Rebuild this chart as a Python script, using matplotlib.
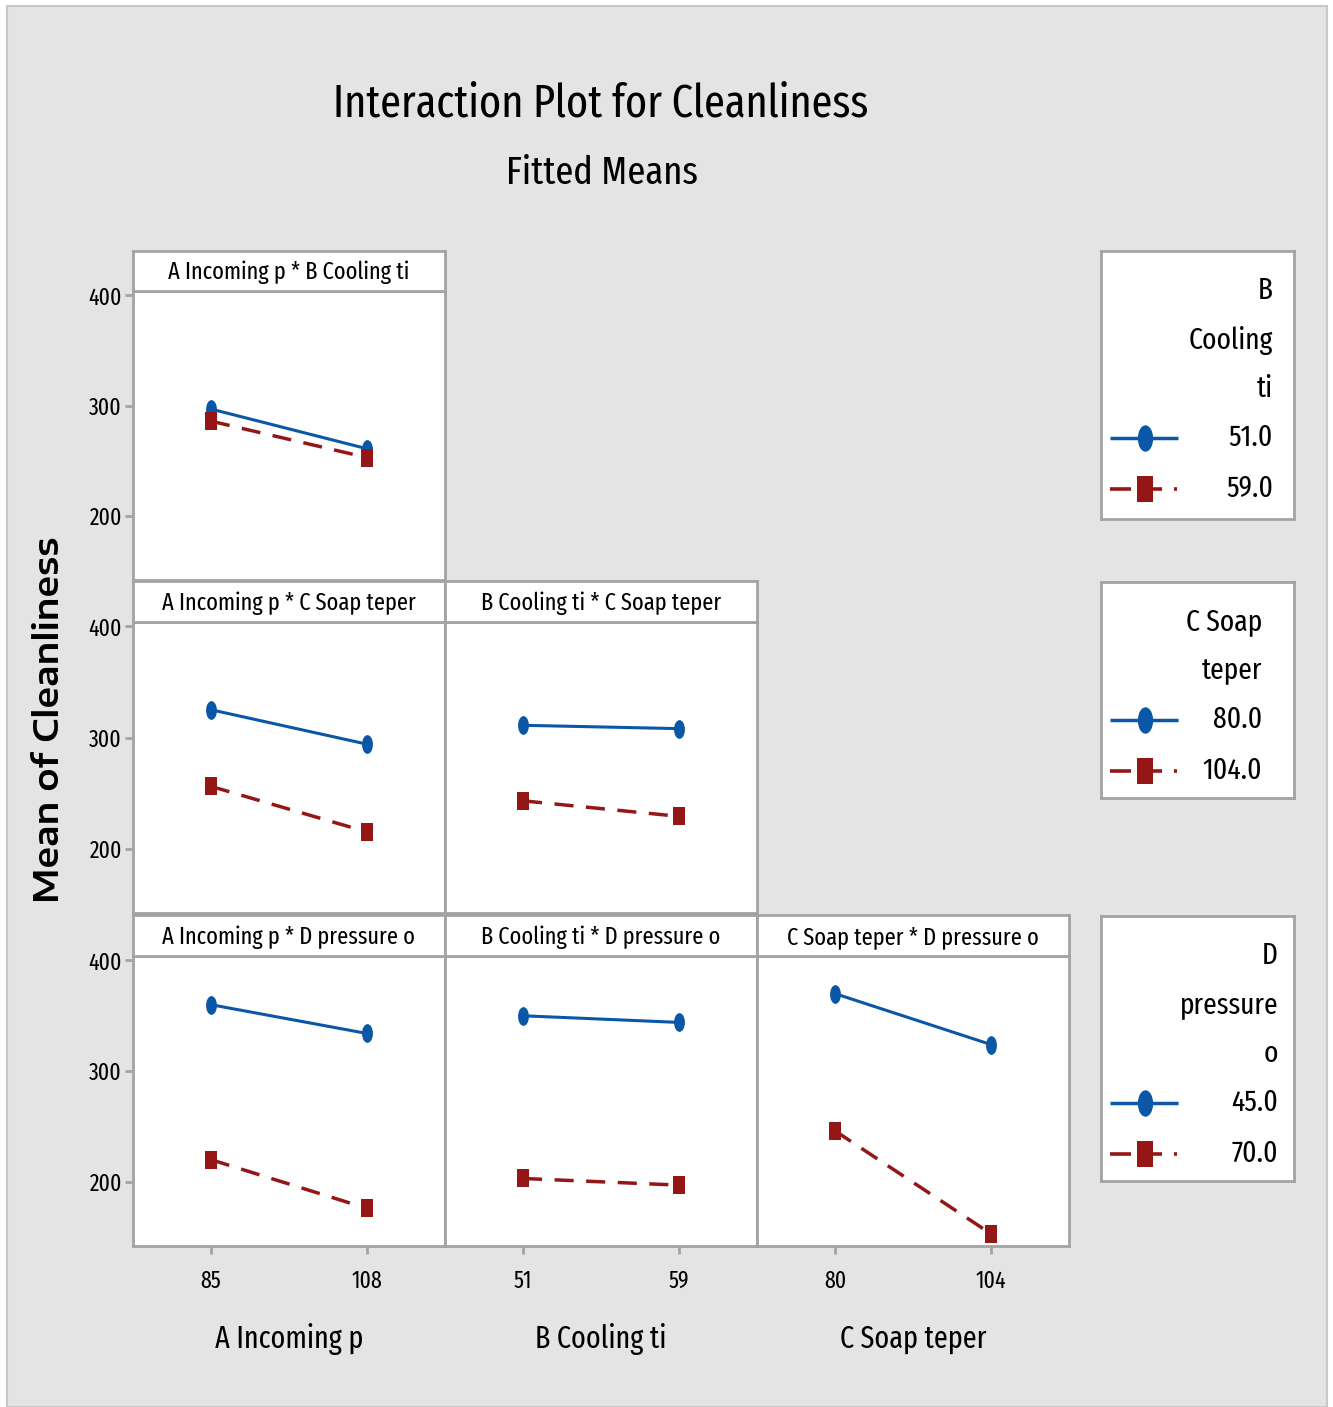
import matplotlib
matplotlib.use("Agg")
import matplotlib.pyplot as plt
from matplotlib.path import Path
from matplotlib.transforms import Affine2D
from matplotlib.patches import Rectangle

# ---------------- data ----------------
factor_levels = {
    "A Incoming p": [85, 108],
    "B Cooling ti": [51, 59],
    "C Soap teper": [80, 104],
    "D pressure o": [45, 70],
}
trace_labels = {
    "B Cooling ti": ["51.0", "59.0"],
    "C Soap teper": ["80.0", "104.0"],
    "D pressure o": ["45.0", "70.0"],
}
legend_titles = {
    "B Cooling ti": "B\nCooling\nti",
    "C Soap teper": "C Soap\nteper",
    "D pressure o": "D\npressure\no",
}
# means[(x factor, trace factor)] = [trace level 1 values, trace level 2 values]
means = {
    ("A Incoming p", "B Cooling ti"): [[297, 261], [286, 253]],
    ("A Incoming p", "C Soap teper"): [[325, 294], [256, 215]],
    ("B Cooling ti", "C Soap teper"): [[311, 308], [243, 229]],
    ("A Incoming p", "D pressure o"): [[360, 334], [220, 176]],
    ("B Cooling ti", "D pressure o"): [[350, 344], [203, 197]],
    ("C Soap teper", "D pressure o"): [[370, 324], [246, 153]],
}
y_ticks = [200, 300, 400]
y_lim = (142, 404)

# ---------------- style ----------------
W, H = 1333, 1407
BG = "#E4E4E4"
FRAME = "#A3A3A3"
BLUE = "#0A57A8"
RED = "#951616"
COND = ["Fira Sans Extra Condensed", "DejaVu Sans"]

ell = Path.unit_circle().transformed(Affine2D().scale(0.58, 1.0))
sq = Path.unit_rectangle().transformed(Affine2D().translate(-0.5, -0.5).scale(0.62, 1.0))

fig = plt.figure(figsize=(W / 100, H / 100), dpi=100, facecolor="white")
fig.patches.append(Rectangle((7 / W, 0), 1320 / W, 1 - 6 / H, transform=fig.transFigure,
                             facecolor=BG, edgecolor="#C8C8C8", linewidth=1.5, zorder=-10))

def fx(px):
    return px / W

def fy(py):
    return 1 - py / H

col_left = [133, 445, 757]
col_w = 312
rows = [(291, 580, 251), (622, 913, 581), (956, 1246, 915)]

traces = ["B Cooling ti", "C Soap teper", "D pressure o"]
xfacs = ["A Incoming p", "B Cooling ti", "C Soap teper"]

for r, tr in enumerate(traces):
    top, bot, htop = rows[r]
    for c in range(r + 1):
        xf = xfacs[c]
        ax = fig.add_axes([fx(col_left[c]), fy(bot), fx(col_w), (bot - top) / H])
        ax.set_facecolor("white")
        lv = factor_levels[xf]
        d = lv[1] - lv[0]
        ax.set_xlim(lv[0] - 0.5 * d, lv[1] + 0.5 * d)
        ax.set_ylim(*y_lim)
        vals = means[(xf, tr)]
        ax.plot(lv, vals[0], color=BLUE, lw=2.2, marker=ell, ms=13.5,
                markeredgewidth=0, solid_capstyle="butt", zorder=3)
        ax.plot(lv, vals[1], color=RED, lw=2.5, marker=sq, ms=13.5,
                markeredgewidth=0, dashes=(5.5, 3.6), zorder=3)
        for s in ax.spines.values():
            s.set_color(FRAME)
            s.set_linewidth(2)
        ax.tick_params(colors=FRAME, length=6, width=2, labelcolor="black")
        if c == 0:
            ax.set_yticks(y_ticks)
            ax.set_yticklabels([str(t) for t in y_ticks], family=COND, fontsize=17)
            ax.tick_params(axis="y", pad=2)
        else:
            ax.set_yticks([])
        if r == 2:
            ax.set_xticks(lv)
            ax.set_xticklabels([str(v) for v in lv], family=COND, fontsize=17)
            ax.tick_params(axis="x", pad=11)
            ax.set_xlabel(xf, family=COND, fontsize=22, labelpad=22)
        else:
            ax.set_xticks([])
        # header strip
        hx = fig.add_axes([fx(col_left[c]), fy(top), fx(col_w), (top - htop) / H])
        hx.set_facecolor("white")
        hx.set_xticks([]); hx.set_yticks([])
        for s in hx.spines.values():
            s.set_color(FRAME)
            s.set_linewidth(2)
        hx.text(0.5, 0.46, f"{xf} * {tr}", ha="center", va="center",
                family=COND, fontsize=17.5, transform=hx.transAxes)

# ---------------- legends ----------------
leg_boxes = [(251, 519, 1273), (582, 798, 1262), (916, 1181, 1278)]
for tr, (ltop, lbot, rx) in zip(traces, leg_boxes):
    lx = fig.add_axes([fx(1101), fy(lbot), fx(1294 - 1101), (lbot - ltop) / H])
    lx.set_facecolor("white")
    lx.set_xlim(1101, 1294)
    lx.set_ylim(lbot, ltop)
    lx.set_xticks([]); lx.set_yticks([])
    for s in lx.spines.values():
        s.set_color(FRAME)
        s.set_linewidth(2)
    lines = legend_titles[tr].split("\n")
    y = ltop + 40
    for ln in lines:
        lx.text(rx, y, ln, ha="right", va="center", family=COND, fontsize=21.5)
        y += 49
    labs = trace_labels[tr]
    lx.plot([1110, 1178], [y, y], color=BLUE, lw=2.5, solid_capstyle="butt")
    lx.plot([1145], [y], color=BLUE, marker=ell, ms=19, markeredgewidth=0)
    lx.text(rx, y, labs[0], ha="right", va="center", family=COND, fontsize=21.5)
    y += 51
    lx.plot([1110, 1131], [y, y], color=RED, lw=2.6, solid_capstyle="butt")
    lx.plot([1152, 1162], [y, y], color=RED, lw=2.6, solid_capstyle="butt")
    lx.plot([1174, 1177], [y, y], color=RED, lw=2.6, solid_capstyle="butt")
    lx.plot([1145], [y], color=RED, marker=sq, ms=19, markeredgewidth=0)
    lx.text(rx, y, labs[1], ha="right", va="center", family=COND, fontsize=21.5)

# ---------------- titles ----------------
fig.text(fx(601), fy(104), "Interaction Plot for Cleanliness", ha="center", va="center",
         family=COND, fontsize=33)
fig.text(fx(602), fy(173), "Fitted Means", ha="center", va="center",
         family=COND, fontsize=28.5)
ylab = fig.text(fx(50), fy(720), "Mean of Cleanliness", ha="center", va="center",
                rotation=90, family=["Encode Sans Expanded", "DejaVu Sans"],
                fontweight=600, fontsize=20)
fig.canvas.draw()
ext = ylab.get_window_extent(fig.canvas.get_renderer())
ylab.set_fontsize(20 * 366 / ext.height)

fig.savefig("out.png", dpi=100, facecolor=fig.get_facecolor())
